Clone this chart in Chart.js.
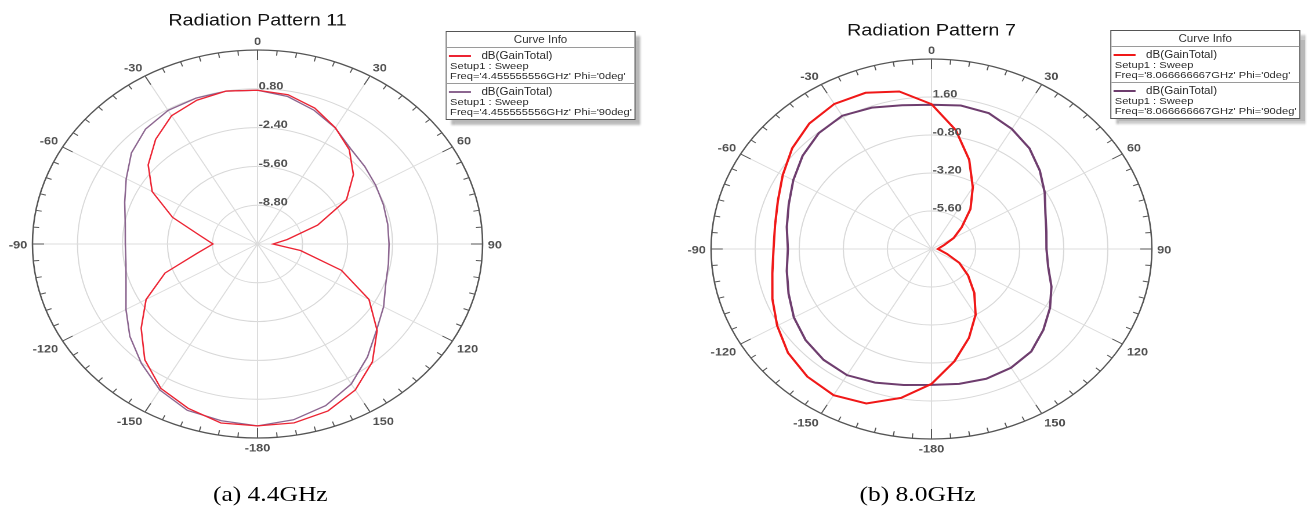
<!DOCTYPE html>
<html>
<head>
<meta charset="utf-8">
<script src="https://cdn.jsdelivr.net/npm/chart.js@4.4.1/dist/chart.umd.min.js"></script>
<style>
html,body{margin:0;padding:0;background:#fff;width:1309px;height:508px;overflow:hidden;}
#stage{position:absolute;left:0;top:0;width:1128px;height:508px;transform:scaleX(1.16);transform-origin:0 0;}
canvas{position:absolute;top:0;}
#cA{left:0;}
#cB{left:570px;}
.legend{position:absolute;background:#fff;border:1px solid #555;box-shadow:5px 5px 2px #b8b8b8;font:9.6px "Liberation Sans",Arial,sans-serif;color:#2a2a2a;width:162px;z-index:2;}
.legend .hd{height:15px;line-height:15px;text-align:center;border-bottom:1px solid #9a9a9a;color:#333;font-size:10px;}
.legend .it{padding:2px 0 2px 3px;line-height:10px;white-space:nowrap;}
.legend .it + .it{border-top:1px solid #9a9a9a;}
.legend .l1{height:11px;line-height:11px;position:relative;padding-left:27px;font-size:10px;}
.legend .sw{position:absolute;left:-1px;top:5px;width:19px;height:2px;}
.caption{position:absolute;top:483px;font:22px "Liberation Serif","Times New Roman",serif;line-height:22px;color:#000;transform:translateX(-50%);white-space:nowrap;}
</style>
</head>
<body>
<div id="stage">
  <canvas id="cA" width="440" height="470"></canvas>
  <canvas id="cB" width="460" height="480"></canvas>
  <div class="legend" id="legA" style="left:384px;top:31px;"></div>
  <div class="legend" id="legB" style="left:957px;top:30px;"></div>
  <div class="caption" style="left:233px;">(a) 4.4GHz</div>
  <div class="caption" style="left:791px;">(b) 8.0GHz</div>
</div>
<script>
// ---- categories: angle (deg), clockwise from top ----
const angleLabels = [0,10,20,30,40,50,60,70,80,90,100,110,120,130,140,150,160,170,
                     -180,-170,-160,-150,-140,-130,-120,-110,-100,-90,-80,-70,-60,-50,-40,-30,-20,-10];

// ---- (a) 4.4 GHz : dB(GainTotal) ----
const ringTicksA  = [-12, -8.8, -5.6, -2.4, 0.8, 4.0];
const ringLabelsA = ['', '-8.80', '-5.60', '-2.40', '0.80', ''];
const phi0A  = [0.68,0.5,-0.08,-0.93,-1.85,-3.1,-4.7,-7.45,-9.85,-10.9,-8.9,-5.65,-2.85,-0.9,0.7,1.9,2.65,2.98,
                3.0,2.99,2.42,1.75,0.47,-1.2,-2.85,-5.0,-7.65,-8.83,-7.8,-5.57,-3.35,-1.85,-0.73,0.22,0.62,0.81];
const phi90A = [0.68,0.35,-0.26,-0.95,-1.72,-2.05,-2.3,-2.48,-2.6,-2.65,-2.55,-2.3,-1.65,-0.95,0.16,1.33,2.18,2.72,
                3.0,2.8,2.6,1.9,0.85,-0.15,-1.2,-2.05,-2.5,-2.6,-2.45,-1.95,-1.22,-0.3,0.38,0.72,0.8,0.8];
const legendA = {setup:'Setup1 : Sweep', freq:'4.455555556GHz', phis:['0deg','90deg']};

// ---- (b) 8.0 GHz : dB(GainTotal) ----
const ringTicksB  = [-8, -5.6, -3.2, -0.8, 1.6, 4.0];
const ringLabelsB = ['', '-5.60', '-3.20', '-0.80', '1.60', ''];
const phi0B  = [1.15,-0.38,-2.0,-3.5,-4.7,-5.85,-6.6,-7.27,-7.55,-7.65,-7.5,-7.1,-6.25,-5.4,-4.37,-3.2,-2.03,-0.8,
                0.52,1.55,2.38,2.66,2.52,2.2,1.7,1.22,0.8,0.6,0.65,0.9,1.35,1.9,2.35,2.58,2.5,2.1];
const phi90B = [1.11,1.2,1.13,0.75,0.3,-0.3,-0.88,-1.4,-1.65,-1.74,-1.55,-1.05,-0.55,-0.05,0.45,0.66,0.72,0.65,
                0.58,0.72,0.98,1.2,1.14,0.95,0.65,0.28,0.0,-0.18,0.0,0.27,0.69,1.16,1.55,1.72,1.5,1.22];
const legendB = {setup:'Setup1 : Sweep', freq:'8.066666667GHz', phis:['0deg','90deg']};

const FONT = '"Liberation Sans", Arial, sans-serif';

// decorations of the polar frame: outer tick marks, angle labels, ring value labels
const polarDecor = {
  id: 'polarDecor',
  afterDraw(chart, args, opts) {
    const s = chart.scales.r, ctx = chart.ctx;
    const R = s.drawingArea, cx = s.xCenter, cy = s.yCenter;
    const base = s.getIndexAngle(0) - Math.PI / 2;
    ctx.save();
    ctx.strokeStyle = '#555';
    ctx.lineWidth = 1;
    for (let d = 0; d < 360; d += 5) {
      const a = base + d * Math.PI / 180;
      const len = d % 30 === 0 ? 10 : 5;
      ctx.beginPath();
      ctx.moveTo(cx + Math.cos(a) * R, cy + Math.sin(a) * R);
      ctx.lineTo(cx + Math.cos(a) * (R - len), cy + Math.sin(a) * (R - len));
      ctx.stroke();
    }
    ctx.font = 'bold 11px ' + FONT;
    ctx.fillStyle = '#505050';
    ctx.textBaseline = 'middle';
    chart.data.labels.forEach((lab, i) => {
      if (lab % 30 !== 0) return;
      const deg = ((i * 360 / chart.data.labels.length) % 360 + 360) % 360;
      const p = s.getPointPosition(i, R + 4.5);
      let y = p.y;
      if (deg === 0 || deg === 180) ctx.textAlign = 'center';
      else if (deg < 180) ctx.textAlign = 'left';
      else ctx.textAlign = 'right';
      if (deg === 90 || deg === 270) y += 1.5;
      else if (deg < 90 || deg > 270) y -= 3.5;
      else y += 6;
      ctx.fillText(String(lab), p.x, y);
    });
    ctx.textAlign = 'left';
    s.ticks.forEach((t) => {
      if (!t.label) return;
      const dist = s.getDistanceFromCenterForValue(t.value);
      ctx.fillText(t.label, cx + 1, cy - dist - 2.5);
    });
    ctx.restore();
  }
};

function makeChart(id, cfg) {
  return new Chart(document.getElementById(id), {
    type: 'radar',
    data: {
      labels: angleLabels,
      datasets: [
        {label: 'dB(GainTotal)', data: cfg.phi0, borderColor: cfg.c0, borderWidth: cfg.w, fill: false},
        {label: 'dB(GainTotal)', data: cfg.phi90, borderColor: cfg.c1, borderWidth: cfg.w, fill: false}
      ]
    },
    options: {
      responsive: false,
      animation: false,
      devicePixelRatio: 2,
      layout: {padding: cfg.pad},
      elements: {line: {tension: 0}, point: {radius: 0, hitRadius: 0, hoverRadius: 0}},
      plugins: {
        legend: {display: false},
        tooltip: {enabled: false},
        title: {display: true, text: cfg.title, color: '#111',
                font: {family: FONT, size: 17, weight: 'normal'}, padding: cfg.titlePad}
      },
      scales: {
        r: {
          min: cfg.ringTicks[0],
          max: cfg.ringTicks[cfg.ringTicks.length - 1],
          afterBuildTicks: (scale) => { scale.ticks = cfg.ringTicks.map(v => ({value: v})); },
          ticks: {display: false, callback: (v, i) => cfg.ringLabels[i]},
          grid: {
            circular: true,
            color: (c) => (c.tick && c.tick.value === cfg.ringTicks[cfg.ringTicks.length - 1]) ? '#555' : '#d8d8d8',
            lineWidth: (c) => (c.tick && c.tick.value === cfg.ringTicks[cfg.ringTicks.length - 1]) ? 1.3 : 1
          },
          angleLines: {
            display: true,
            color: (c) => (c.index % 3 === 0) ? '#dcdcdc' : 'rgba(0,0,0,0)',
            lineWidth: (c) => (c.index % 3 === 0) ? 1 : 0
          },
          pointLabels: {display: false}
        }
      }
    },
    plugins: [polarDecor]
  });
}

function buildLegend(elId, chart, info) {
  const el = document.getElementById(elId);
  let html = '<div class="hd">Curve Info</div>';
  chart.data.datasets.forEach((ds, i) => {
    html += '<div class="it"><div class="l1"><span class="sw" style="background:' + ds.borderColor + '"></span>' +
            ds.label + '</div><div>' + info.setup + '</div><div>Freq=\'' + info.freq + '\' Phi=\'' + info.phis[i] + '\'</div></div>';
  });
  el.innerHTML = html;
}

const chartA = makeChart('cA', {
  title: 'Radiation Pattern 11', ringTicks: ringTicksA, ringLabels: ringLabelsA,
  phi0: phi0A, phi90: phi90A, c0: '#ec2433', c1: '#8c6690', w: 1.3,
  pad: {left: 28, right: 24, top: 0, bottom: 32}, titlePad: {top: 10.5, bottom: 19.1}
});
const chartB = makeChart('cB', {
  title: 'Radiation Pattern 7', ringTicks: ringTicksB, ringLabels: ringLabelsB,
  phi0: phi0B, phi90: phi90B, c0: '#f01818', c1: '#6e3d6e', w: 2,
  pad: {left: 43, right: 37, top: 0, bottom: 41}, titlePad: {top: 20.6, bottom: 18}
});
buildLegend('legA', chartA, legendA);
buildLegend('legB', chartB, legendB);
</script>
</body>
</html>
